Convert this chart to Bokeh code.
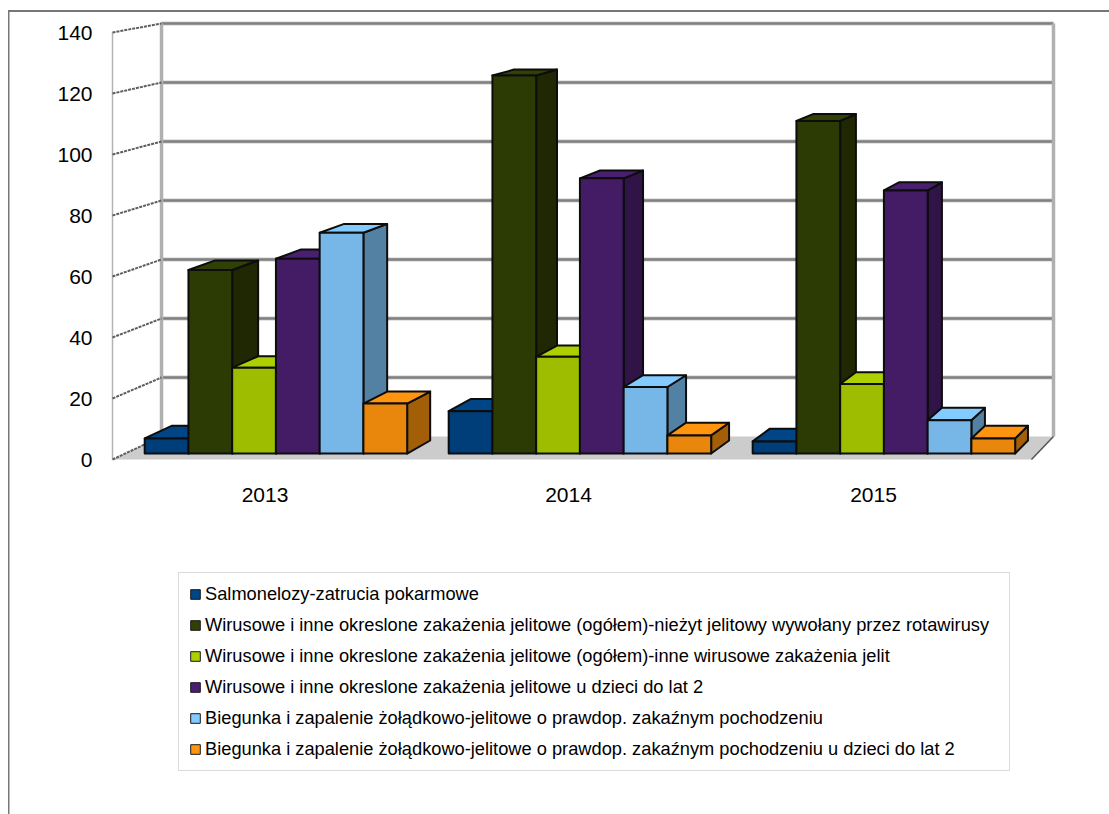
from bokeh.plotting import figure
from bokeh.layouts import column
from bokeh.models import (ColumnDataSource, FixedTicker, Legend, LegendItem, Range1d)
from bokeh.embed import file_html
from bokeh.resources import INLINE

years = ["2013", "2014", "2015"]
series_names = [
    "Salmonelozy-zatrucia pokarmowe",
    "Wirusowe i inne okreslone zakażenia jelitowe (ogółem)-nieżyt jelitowy wywołany przez rotawirusy",
    "Wirusowe i inne okreslone zakażenia jelitowe (ogółem)-inne wirusowe zakażenia jelit",
    "Wirusowe i inne okreslone zakażenia jelitowe u dzieci do lat 2",
    "Biegunka i zapalenie żołądkowo-jelitowe o prawdop. zakaźnym pochodzeniu",
    "Biegunka i zapalenie żołądkowo-jelitowe o prawdop. zakaźnym pochodzeniu u dzieci do lat 2",
]
salmonelozy = [5, 14, 4]
rotawirusy = [60.7, 125, 110]
inne_wirusowe = [28.4, 32, 23]
dzieci_wirusowe = [64.4, 91, 87]
biegunka = [73, 22, 11]
biegunka_dzieci = [16.5, 6, 5]
all_values = [salmonelozy, rotawirusy, inne_wirusowe, dzieci_wirusowe, biegunka, biegunka_dzieci]
base_colors = ["#004586", "#314004", "#aecf00", "#4b1f6f", "#83caff", "#ff950e"]
y_ticks = [0, 20, 40, 60, 80, 100, 120, 140]

W, H, H_TOP = 1109, 814, 520
BAR_W = 0.1439
BAR_D0, BAR_D1 = 0.26, 0.826
EDGE = "#0d0d0d"
FRAME_LEFT, FRAME_BOTTOM = 101, 476


def shade(hex_color, factor):
    r, g, b = (int(hex_color[i:i + 2], 16) for i in (1, 3, 5))
    return "#%02x%02x%02x" % (int(r * factor), int(g * factor), int(b * factor))


def px(g, d):
    """Perspective: group coordinate g at depth d (0 front plane, 1 back wall)."""
    return g + d * (0.16 - 0.0294 * (g + 0.5))


def py(v, d):
    return v * (1 - 0.0328 * d) + 7.54 * d


p = figure(width=W, height=H_TOP, output_backend="svg", toolbar_location=None,
           x_range=Range1d((FRAME_LEFT - 112) / 306.33 - 0.5, (W - 112) / 306.33 - 0.5),
           y_range=Range1d((459 - FRAME_BOTTOM) / 3.05, 459 / 3.05),
           min_border_left=FRAME_LEFT, min_border_right=0, min_border_top=0,
           min_border_bottom=H_TOP - FRAME_BOTTOM,
           border_fill_color=None, background_fill_color=None)
p.outline_line_color = None
p.grid.visible = False

p.yaxis.ticker = FixedTicker(ticks=y_ticks)
p.yaxis.axis_line_color = None
p.yaxis.major_tick_line_color = None
p.yaxis.minor_tick_line_color = None
p.yaxis.major_label_standoff = 3
p.yaxis.major_label_text_font = "Liberation Sans"
p.yaxis.major_label_text_font_size = "21px"
p.yaxis.major_label_text_color = "#000000"

x_ticks = [-0.002, 0.9886, 1.9842]
p.xaxis.ticker = FixedTicker(ticks=x_ticks)
p.xaxis.major_label_overrides = dict(zip(x_ticks, years))
p.xaxis.axis_line_color = None
p.xaxis.major_tick_line_color = None
p.xaxis.minor_tick_line_color = None
p.xaxis.major_label_standoff = 5
p.xaxis.major_label_text_font = "Liberation Sans"
p.xaxis.major_label_text_font_size = "21px"
p.xaxis.major_label_text_color = "#000000"

# floor
L, R = -0.5, 2.5
p.patch([px(L, 0), px(L, 1), px(R, 1), px(R, 0)],
        [py(0, 0), py(0, 1), py(0, 1), py(0, 0)],
        fill_color="#cccccc", line_color=None)
# back wall gridlines (above the floor line)
grid_vals = [v for v in y_ticks if v > 0]
p.multi_line([[px(L, 1), px(R, 1)] for v in grid_vals], [[py(v, 1), py(v, 1)] for v in grid_vals],
             line_color="#c9c9c9", line_width=4)
p.multi_line([[px(L, 1), px(R, 1)] for v in grid_vals], [[py(v, 1), py(v, 1)] for v in grid_vals],
             line_color="#808080", line_width=2.4)
# wall verticals
p.multi_line([[px(L, 1), px(L, 1)], [px(R, 1), px(R, 1)]],
             [[py(0, 1), py(140, 1)], [py(0, 1), py(140, 1)]],
             line_color="#b0b0b0", line_width=3.5)
p.line([px(L, 0), px(L, 0)], [py(0, 0), py(140, 0)], line_color="#b3b3b3", line_width=1.5)
# left wall rungs
p.multi_line([[px(L, 0), px(L, 1)] for v in y_ticks], [[py(v, 0), py(v, 1)] for v in y_ticks],
             line_color="#5e5e5e", line_width=2, line_dash="3 1")
# right floor edge
p.line([px(R, 0), px(R, 1)], [py(0, 0), py(0, 1)], line_color="#555555", line_width=1.5)

for j, (values, col) in enumerate(zip(all_values, base_colors)):
    fx, fy, sx, sy, tx, ty = [], [], [], [], [], []
    for i, v in enumerate(values):
        g0 = i - 0.436 + j * BAR_W
        g1 = g0 + BAR_W
        fx.append([px(g0, BAR_D0), px(g1, BAR_D0), px(g1, BAR_D0), px(g0, BAR_D0)])
        fy.append([py(0, BAR_D0), py(0, BAR_D0), py(v, BAR_D0), py(v, BAR_D0)])
        sx.append([px(g1, BAR_D0), px(g1, BAR_D1), px(g1, BAR_D1), px(g1, BAR_D0)])
        sy.append([py(0, BAR_D0), py(0, BAR_D1), py(v, BAR_D1), py(v, BAR_D0)])
        tx.append([px(g0, BAR_D0), px(g1, BAR_D0), px(g1, BAR_D1), px(g0, BAR_D1)])
        ty.append([py(v, BAR_D0), py(v, BAR_D0), py(v, BAR_D1), py(v, BAR_D1)])
    p.patches("x", "y", source=ColumnDataSource(dict(x=sx, y=sy)),
              fill_color=shade(col, 0.64), line_color=EDGE, line_width=2, line_join="round")
    p.patches("x", "y", source=ColumnDataSource(dict(x=tx, y=ty)),
              fill_color=col, line_color=EDGE, line_width=2, line_join="round")
    p.patches("x", "y", source=ColumnDataSource(dict(x=fx, y=fy)),
              fill_color=shade(col, 0.91), line_color=EDGE, line_width=2, line_join="round")

# legend lives in its own panel under the chart
lg = figure(width=W, height=H - H_TOP, output_backend="svg", toolbar_location=None,
            x_range=Range1d(0, 1), y_range=Range1d(0, 1),
            x_axis_location=None, y_axis_location=None,
            min_border=0, border_fill_color=None, background_fill_color=None)
lg.outline_line_color = None
lg.grid.visible = False
items = []
for name, col in zip(series_names, base_colors):
    # key-only glyph: sits outside the panel's range, only its legend swatch shows
    swatch = lg.quad(left=[5], right=[6], top=[6], bottom=[5], fill_color=col,
                     line_color="#1a1a1a", line_width=1)
    items.append(LegendItem(label=name, renderers=[swatch]))
legend = Legend(items=items, location=(178 - FRAME_LEFT, 43), orientation="vertical",
                label_text_font="Liberation Sans", label_text_font_size="18.25px",
                label_text_color="#000000", glyph_width=12, glyph_height=12,
                label_standoff=4, spacing=9, padding=10, margin=0,
                border_line_color="#b8b8b8", border_line_width=1, background_fill_color="#ffffff",
                label_height=22, label_width=794, click_policy="none")
lg.add_layout(legend, "center")

page = column(p, lg, spacing=0, width=W, height=H)
page.styles = {
    "background-image": "linear-gradient(#777777,#777777),linear-gradient(#777777,#777777)",
    "background-size": "1101px 2px, 1.5px 804px",
    "background-position": "8px 10px, 8px 10px",
    "background-repeat": "no-repeat",
}

open("out.html", "w").write(file_html(page, INLINE))
